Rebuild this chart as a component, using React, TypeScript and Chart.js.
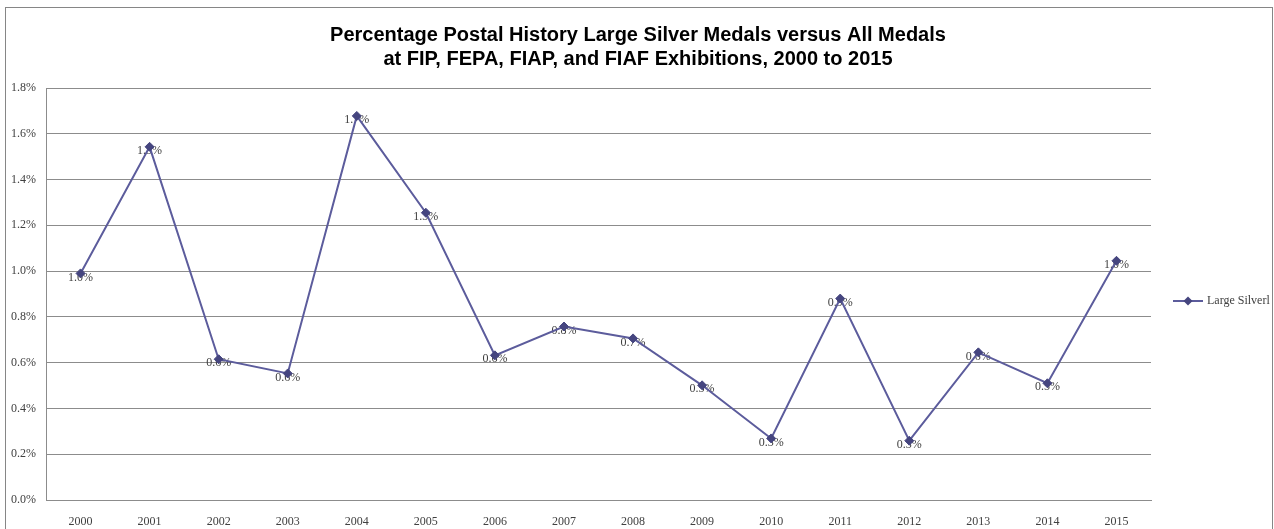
import React, { useEffect, useRef } from "react";
import { Chart, registerables } from "chart.js";

Chart.register(...registerables);

const categories = ["2000","2001","2002","2003","2004","2005","2006","2007","2008","2009","2010","2011","2012","2013","2014","2015"];
const largeSilver = [0.99, 1.543, 0.615, 0.553, 1.678, 1.255, 0.632, 0.758, 0.706, 0.501, 0.269, 0.88, 0.259, 0.645, 0.51, 1.045];
const titleLines = [
  "Percentage Postal History Large Silver Medals versus All Medals",
  "at FIP, FEPA, FIAP, and FIAF Exhibitions, 2000 to 2015",
];
const seriesName = "Large Silverl";

const W = 1274;
const H = 529;
const SERIF = '"Liberation Serif", "DejaVu Serif", serif';
const LINE_COLOR = "#5c5c9c";
const MARKER_COLOR = "#45457f";
const GRID_COLOR = "#8c8c8c";

export default function App() {
  const ref = useRef<HTMLCanvasElement | null>(null);
  useEffect(() => {
    if (!ref.current) return;
    const decor = {
      id: "decor",
      beforeDraw(chart: any) {
        const ctx = chart.ctx;
        ctx.save();
        ctx.fillStyle = "#ffffff";
        ctx.fillRect(0, 0, W, H);
        ctx.strokeStyle = "#868686";
        ctx.lineWidth = 1;
        ctx.strokeRect(5.5, 7.5, 1267, H + 10);
        ctx.fillStyle = "#000";
        ctx.font = 'bold 20px "Liberation Sans", Arial, sans-serif';
        ctx.textAlign = "center";
        ctx.textBaseline = "alphabetic";
        ctx.fillText(titleLines[0], 638, 41);
        ctx.fillText(titleLines[1], 638, 65);
        ctx.restore();
      },
      beforeDatasetsDraw(chart: any) {
        const ctx = chart.ctx;
        const meta = chart.getDatasetMeta(0);
        ctx.save();
        ctx.font = "12px " + SERIF;
        ctx.fillStyle = "#404040";
        ctx.textAlign = "center";
        ctx.textBaseline = "middle";
        meta.data.forEach((pt: any, i: number) => {
          ctx.fillText(largeSilver[i].toFixed(1) + "%", pt.x, pt.y + 4);
        });
        ctx.restore();
      },
      afterDraw(chart: any) {
        const ctx = chart.ctx;
        const ly = 301;
        ctx.save();
        ctx.strokeStyle = LINE_COLOR;
        ctx.lineWidth = 2;
        ctx.beginPath();
        ctx.moveTo(1173, ly);
        ctx.lineTo(1203, ly);
        ctx.stroke();
        ctx.fillStyle = MARKER_COLOR;
        ctx.beginPath();
        ctx.moveTo(1188, ly - 4.5);
        ctx.lineTo(1192.5, ly);
        ctx.lineTo(1188, ly + 4.5);
        ctx.lineTo(1183.5, ly);
        ctx.closePath();
        ctx.fill();
        ctx.font = "12px " + SERIF;
        ctx.fillStyle = "#404040";
        ctx.textAlign = "left";
        ctx.textBaseline = "middle";
        ctx.fillText(seriesName, 1207, ly);
        ctx.restore();
      },
    };
    const chart = new Chart(ref.current, {
      type: "line",
      data: {
        labels: categories,
        datasets: [
          {
            label: seriesName,
            data: largeSilver,
            borderColor: LINE_COLOR,
            backgroundColor: MARKER_COLOR,
            borderWidth: 2,
            pointStyle: "rectRot",
            pointRadius: 4.5,
            pointBackgroundColor: MARKER_COLOR,
            pointBorderColor: MARKER_COLOR,
            pointBorderWidth: 1,
            tension: 0,
          },
        ],
      },
      options: {
        responsive: false,
        animation: false,
        layout: { padding: { top: 88, right: 123, left: 0, bottom: 0 } },
        plugins: {
          legend: { display: false },
          title: { display: false },
          tooltip: { enabled: false },
        },
        scales: {
          x: {
            offset: true,
            grid: { display: false, drawTicks: false },
            border: { display: true, color: GRID_COLOR },
            ticks: {
              padding: 15,
              color: "#404040",
              font: { family: SERIF, size: 12 },
              maxRotation: 0,
              autoSkip: false,
            },
            afterFit(scale: any) {
              scale.height = H - 500;
            },
          },
          y: {
            min: 0,
            max: 1.8,
            grid: { color: GRID_COLOR, drawTicks: false },
            border: { display: true, color: GRID_COLOR },
            ticks: {
              stepSize: 0.2,
              padding: 10,
              color: "#404040",
              font: { family: SERIF, size: 12 },
              callback: (v: any) => Number(v).toFixed(1) + "%",
            },
            afterFit(scale: any) {
              scale.width = 46;
            },
          },
        },
      },
      plugins: [decor],
    });
    return () => chart.destroy();
  }, []);
  return (
    <div style={{ position: "absolute", left: 0, top: 0, width: W, height: H }}>
      <canvas ref={ref} width={W} height={H} style={{ width: W, height: H, display: "block" }} />
    </div>
  );
}
